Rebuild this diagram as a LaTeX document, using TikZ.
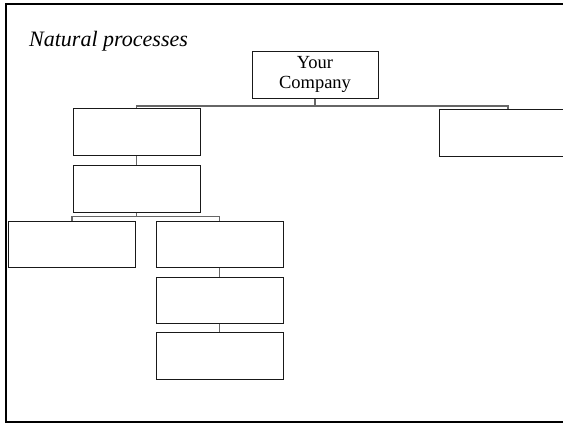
\documentclass[tikz,border=0pt]{standalone}
\usepackage{fontspec}
\setmainfont{Liberation Serif}
\tikzset{
  orgbox/.style={draw=black!90, line width=1pt, minimum width=127pt, minimum height=47pt, inner sep=0pt, align=center},
  link/.style={draw=black!60, line width=1.1pt}
}
\begin{document}
\begin{tikzpicture}[x=1pt, y=-1pt]
        % Page area
        \useasboundingbox (0,0) rectangle (563,424);
        \clip (0,0) rectangle (563,424);
        
        % Frame, open to the right
        \draw[line width=1.6pt] (580,4) -- (6,4) -- (6,422) -- (580,422);
        \draw[line width=2.4pt] (6,4) -- (6,422);
        
        % Title
        \node[anchor=base west, inner sep=0pt, font=\fontsize{22}{26}\selectfont\itshape] (title) at (29,46) {Natural processes};
        
        % The boxes
        \node[orgbox, minimum width=126pt, font=\fontsize{18.5}{20}\selectfont] (company) at (315,74.5) {Your\\Company};
        \node[orgbox] (left) at (136.5,132) {};
        \node[orgbox, minimum width=138pt] (right) at (508,132.5) {};
        \node[orgbox] (mid) at (136.5,188.5) {};
        \node[orgbox, minimum height=46pt] (low1) at (72,244) {};
        \node[orgbox, minimum height=46pt] (low2) at (219.5,244) {};
        \node[orgbox, minimum height=46pt] (low3) at (219.5,300) {};
        \node[orgbox] (low4) at (219.5,355.5) {};
        
        % Connectors
        \coordinate (topbus) at (315,106);
        \coordinate (midbus) at (136.5,216.5);
        \draw[link] (company.south) -- (topbus) -| (left.north);
        \draw[link] (topbus) -| (right.north);
        \draw[link] (left.south) -- (mid.north);
        \draw[link] (mid.south) -- (midbus) -| (low1.north);
        \draw[link] (midbus) -| (low2.north);
        \draw[link] (low2.south) -- (low3.north);
        \draw[link] (low3.south) -- (low4.north);
    \end{tikzpicture}
\end{document}
